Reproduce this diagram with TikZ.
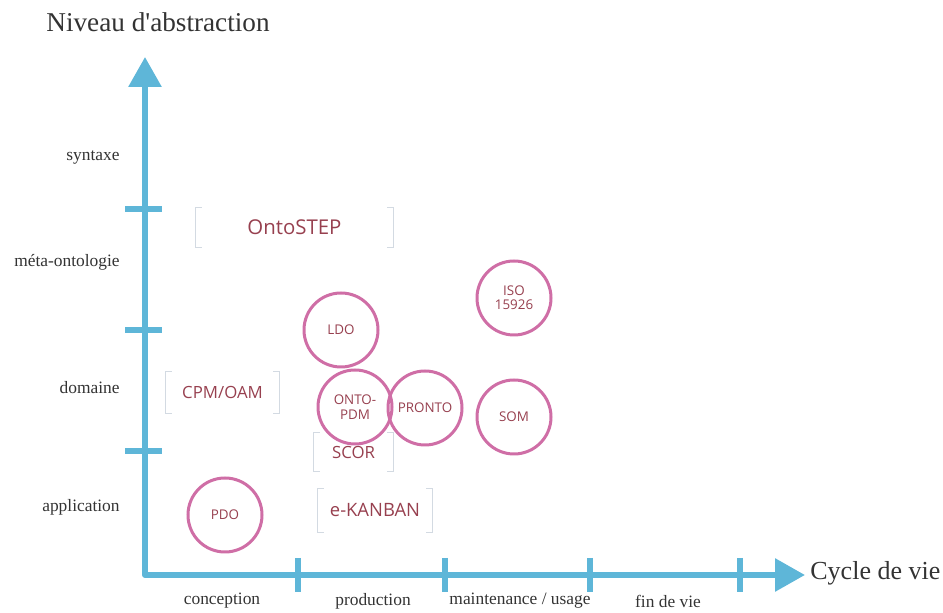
\documentclass[tikz,border=0pt]{standalone}
\usepackage{fontspec}
\setmainfont{Liberation Serif}
\newfontfamily\lblfont{Open Sans}
\usetikzlibrary{arrows.meta}
\definecolor{axisblue}{HTML}{5EB6D8}
\definecolor{circpink}{HTML}{CF6EA6}
\definecolor{lbltext}{HTML}{97404F}
\definecolor{brkgray}{HTML}{D3DAE2}
\definecolor{axtext}{HTML}{333333}
\begin{document}
\begin{tikzpicture}[x=0.5pt,y=-0.5pt,
  axis/.style={draw=axisblue,line width=3pt},
  tick/.style={draw=axisblue,line width=2.6pt},
  ylab/.style={anchor=east,text=axtext,font=\fontsize{8.7}{10}\selectfont,inner sep=0pt},
  xlab/.style={anchor=center,text=axtext,font=\fontsize{8.7}{10}\selectfont,inner sep=0pt},
  onto/.style={circle,draw=circpink,line width=1.5pt,minimum size=37pt,inner sep=0pt,
    text=lbltext,font=\lblfont\fontsize{6.7}{8.2}\selectfont,align=center},
  brk/.style={minimum width=#1,inner sep=0pt,text=lbltext,font=\lblfont\fontsize{8.4}{10}\selectfont},
  brkline/.style={draw=brkgray,line width=0.7pt}
]
\useasboundingbox (0,0) rectangle (943,613);

% axes
\coordinate (O) at (145,575);
\coordinate (ytop) at (145,57);
\coordinate (xend) at (805,575);
\draw[axis,line join=round,{Triangle[width=16pt,length=15pt]}-{Triangle[width=16pt,length=15pt]}] (ytop) -- (O) -- (xend);

% y ticks
\foreach \yy/\nm in {209/ya,330/yb,451/yc}{
  \coordinate (\nm l) at (125,\yy);
  \coordinate (\nm r) at (162,\yy);
  \draw[tick] (\nm l) -- (\nm r);
}
% x ticks
\foreach \xx/\nm in {298/xa,445/xb,590/xc,740/xd}{
  \coordinate (\nm t) at (\xx,558);
  \coordinate (\nm b) at (\xx,592);
  \draw[tick] (\nm t) -- (\nm b);
}

% axis titles
\node[text=axtext,font=\fontsize{13.6}{16}\selectfont,inner sep=0pt] (ttl) at (158,22) {Niveau d\textquotesingle abstraction};
\node[text=axtext,font=\fontsize{13}{15}\selectfont,inner sep=0pt,anchor=west] (ttx) at (810,573) {Cycle de vie};

% y labels
\node[ylab] (l1) at (120,157) {syntaxe};
\node[ylab] (l2) at (120,262) {méta-ontologie};
\node[ylab] (l3) at (120,388) {domaine};
\node[ylab] (l4) at (120,507) {application};

% x labels
\node[xlab] (c1) at (222,601) {conception};
\node[xlab] (c2) at (373,601) {production};
\node[xlab] (c3) at (520,601) {maintenance / usage};
\node[xlab] (c4) at (668,601) {fin de vie};

% bracketed items
\node[brk=98.5pt,minimum height=19.5pt,font=\lblfont\fontsize{10.2}{12}\selectfont] (ontostep) at (294.5,227.5) {OntoSTEP};
\node[brk=56.5pt,minimum height=20.5pt] (cpm) at (222.5,392.5) {CPM/OAM};
\node[brk=39.5pt,minimum height=19pt] (scor) at (353.5,452) {SCOR};
\node[brk=57pt,minimum height=21.5pt,font=\lblfont\fontsize{9.2}{11}\selectfont] (kanban) at (375,510.5) {e-KANBAN};
\foreach \n in {ontostep,cpm,scor,kanban}{
  \draw[brkline] ([xshift=3pt]\n.north west) -- (\n.north west) -- (\n.south west) -- ([xshift=3pt]\n.south west);
  \draw[brkline] ([xshift=-3pt]\n.north east) -- (\n.north east) -- (\n.south east) -- ([xshift=-3pt]\n.south east);
}

% circled items
\node[onto] (ldo) at (341,330) {LDO};
\node[onto] (iso) at (514,298) {ISO\\[-1pt]15926};
\node[onto] (ontopdm) at (355,407) {ONTO-\\[-1pt]PDM};
\node[onto] (pronto) at (425,408) {PRONTO};
\node[onto] (som) at (514,417) {SOM};
\node[onto] (pdo) at (225,515) {PDO};
\end{tikzpicture}
\end{document}
